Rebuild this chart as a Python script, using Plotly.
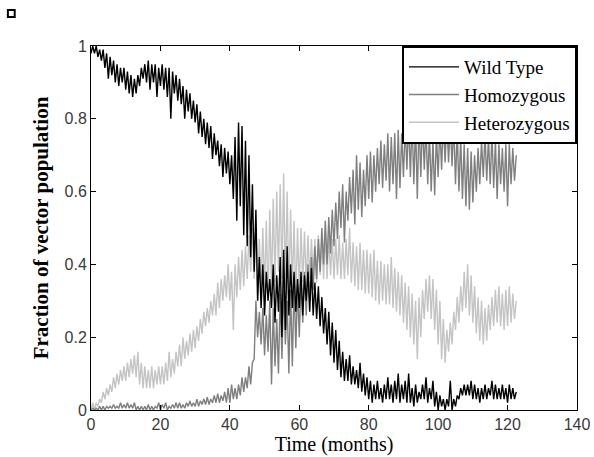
import plotly.graph_objects as go

# Time axis: one sample per month, 0..122
months = list(range(0, 123))

# Wild Type: lower / upper envelope of the fluctuating trace (read per month)
wt_lo = [0.98, 0.98, 0.97, 0.96, 0.94, 0.91, 0.92, 0.90, 0.89, 0.90,
         0.88, 0.87, 0.86, 0.87, 0.89, 0.91, 0.90, 0.88, 0.90, 0.86,
         0.89, 0.88, 0.86, 0.80, 0.87, 0.85, 0.84, 0.80, 0.82, 0.80,
         0.79, 0.76, 0.75, 0.73, 0.72, 0.69, 0.70, 0.67, 0.64, 0.65,
         0.62, 0.58, 0.52, 0.56, 0.48, 0.45, 0.42, 0.38, 0.30, 0.28,
         0.26, 0.30, 0.28, 0.24, 0.27, 0.20, 0.22, 0.26, 0.28, 0.27,
         0.28, 0.26, 0.30, 0.27, 0.26, 0.25, 0.23, 0.21, 0.18, 0.15,
         0.13, 0.11, 0.09, 0.08, 0.08, 0.07, 0.07, 0.06, 0.05, 0.04,
         0.03, 0.02, 0.03, 0.03, 0.02, 0.03, 0.03, 0.02, 0.03, 0.02,
         0.03, 0.02, 0.02, 0.01, 0.02, 0.03, 0.03, 0.02, 0.03, 0.01,
         0.00, 0.01, 0.00, 0.01, 0.00, 0.01, 0.03, 0.04, 0.04, 0.04,
         0.03, 0.03, 0.02, 0.03, 0.03, 0.04, 0.03, 0.03, 0.03, 0.03,
         0.02, 0.03, 0.03]
wt_hi = [1.00, 1.00, 0.99, 0.99, 0.98, 0.97, 0.96, 0.95, 0.94, 0.94,
         0.93, 0.92, 0.91, 0.92, 0.94, 0.95, 0.96, 0.95, 0.95, 0.94,
         0.95, 0.94, 0.94, 0.93, 0.92, 0.91, 0.89, 0.88, 0.87, 0.85,
         0.84, 0.82, 0.80, 0.79, 0.78, 0.76, 0.74, 0.73, 0.72, 0.71,
         0.70, 0.75, 0.79, 0.78, 0.74, 0.70, 0.62, 0.55, 0.42, 0.40,
         0.38, 0.36, 0.40, 0.37, 0.42, 0.44, 0.45, 0.40, 0.38, 0.36,
         0.38, 0.37, 0.38, 0.39, 0.35, 0.34, 0.31, 0.28, 0.27, 0.24,
         0.22, 0.19, 0.16, 0.14, 0.15, 0.12, 0.11, 0.13, 0.10, 0.09,
         0.08, 0.07, 0.08, 0.06, 0.07, 0.09, 0.07, 0.08, 0.10, 0.07,
         0.08, 0.10, 0.06, 0.07, 0.05, 0.07, 0.09, 0.06, 0.08, 0.05,
         0.04, 0.03, 0.03, 0.08, 0.03, 0.04, 0.06, 0.07, 0.07, 0.08,
         0.07, 0.06, 0.06, 0.07, 0.06, 0.08, 0.07, 0.06, 0.07, 0.06,
         0.07, 0.06, 0.05]

# Homozygous
ho_lo = [0.000, 0.000, 0.000, 0.000, 0.000, 0.005, 0.005, 0.005, 0.005, 0.005,
         0.005, 0.005, 0.005, 0.000, 0.000, 0.000, 0.000, 0.000, 0.000, 0.005,
         0.000, 0.005, 0.000, 0.005, 0.005, 0.005, 0.005, 0.005, 0.010, 0.010,
         0.010, 0.010, 0.015, 0.015, 0.015, 0.020, 0.020, 0.020, 0.025, 0.020,
         0.02, 0.03, 0.03, 0.04, 0.05, 0.06, 0.07, 0.14, 0.20, 0.18,
         0.15, 0.16, 0.07, 0.12, 0.10, 0.14, 0.18, 0.10, 0.12, 0.17,
         0.20, 0.24, 0.26, 0.30, 0.33, 0.36, 0.38, 0.40, 0.40, 0.43,
         0.45, 0.47, 0.50, 0.46, 0.52, 0.54, 0.51, 0.55, 0.53, 0.56,
         0.58, 0.57, 0.60, 0.62, 0.61, 0.63, 0.60, 0.62, 0.58, 0.61,
         0.64, 0.66, 0.64, 0.62, 0.58, 0.64, 0.66, 0.62, 0.60, 0.59,
         0.64, 0.66, 0.68, 0.68, 0.67, 0.62, 0.60, 0.58, 0.56, 0.55,
         0.57, 0.60, 0.62, 0.64, 0.63, 0.62, 0.61, 0.58, 0.62, 0.60,
         0.56, 0.62, 0.63]
ho_hi = [0.005, 0.005, 0.010, 0.010, 0.010, 0.010, 0.015, 0.010, 0.020, 0.015,
         0.020, 0.015, 0.020, 0.010, 0.010, 0.010, 0.015, 0.010, 0.010, 0.020,
         0.015, 0.020, 0.010, 0.015, 0.020, 0.020, 0.015, 0.020, 0.025, 0.020,
         0.030, 0.025, 0.030, 0.035, 0.030, 0.040, 0.045, 0.040, 0.050, 0.060,
         0.07, 0.06, 0.07, 0.09, 0.09, 0.12, 0.13, 0.30, 0.27, 0.28,
         0.26, 0.30, 0.28, 0.25, 0.32, 0.34, 0.30, 0.33, 0.35, 0.34,
         0.36, 0.38, 0.40, 0.42, 0.45, 0.47, 0.50, 0.52, 0.53, 0.55,
         0.57, 0.60, 0.62, 0.60, 0.64, 0.66, 0.70, 0.68, 0.66, 0.70,
         0.71, 0.70, 0.72, 0.74, 0.73, 0.76, 0.75, 0.76, 0.77, 0.76,
         0.78, 0.80, 0.80, 0.79, 0.80, 0.80, 0.78, 0.76, 0.74, 0.76,
         0.78, 0.80, 0.80, 0.80, 0.79, 0.77, 0.75, 0.73, 0.72, 0.71,
         0.70, 0.72, 0.74, 0.76, 0.75, 0.76, 0.74, 0.73, 0.72, 0.73,
         0.73, 0.72, 0.70]

# Heterozygous
he_lo = [0.00, 0.00, 0.01, 0.02, 0.03, 0.04, 0.05, 0.06, 0.07, 0.08,
         0.08, 0.09, 0.10, 0.09, 0.07, 0.06, 0.06, 0.06, 0.06, 0.07,
         0.07, 0.07, 0.08, 0.09, 0.10, 0.12, 0.12, 0.14, 0.15, 0.16,
         0.17, 0.19, 0.21, 0.23, 0.24, 0.26, 0.26, 0.28, 0.30, 0.31,
         0.30, 0.22, 0.31, 0.33, 0.34, 0.36, 0.38, 0.36, 0.30, 0.33,
         0.32, 0.30, 0.33, 0.35, 0.38, 0.36, 0.34, 0.32, 0.33, 0.30,
         0.33, 0.35, 0.34, 0.36, 0.36, 0.35, 0.37, 0.36, 0.36, 0.37,
         0.36, 0.37, 0.36, 0.36, 0.37, 0.35, 0.34, 0.33, 0.33, 0.32,
         0.32, 0.31, 0.30, 0.29, 0.30, 0.29, 0.29, 0.28, 0.27, 0.26,
         0.24, 0.22, 0.20, 0.18, 0.14, 0.20, 0.25, 0.27, 0.25, 0.22,
         0.18, 0.14, 0.13, 0.16, 0.18, 0.22, 0.24, 0.27, 0.28, 0.26,
         0.24, 0.21, 0.19, 0.18, 0.19, 0.22, 0.23, 0.24, 0.23, 0.22,
         0.23, 0.24, 0.25]
he_hi = [0.02, 0.02, 0.03, 0.05, 0.06, 0.07, 0.09, 0.10, 0.11, 0.12,
         0.13, 0.14, 0.15, 0.16, 0.13, 0.12, 0.11, 0.12, 0.11, 0.12,
         0.12, 0.13, 0.16, 0.14, 0.16, 0.18, 0.20, 0.19, 0.21, 0.22,
         0.23, 0.25, 0.27, 0.28, 0.30, 0.32, 0.35, 0.36, 0.37, 0.40,
         0.38, 0.40, 0.42, 0.44, 0.45, 0.48, 0.50, 0.52, 0.47, 0.50,
         0.52, 0.55, 0.58, 0.60, 0.62, 0.65, 0.60, 0.55, 0.52, 0.50,
         0.50, 0.49, 0.48, 0.47, 0.47, 0.48, 0.47, 0.49, 0.48, 0.47,
         0.47, 0.48, 0.46, 0.47, 0.50, 0.46, 0.45, 0.46, 0.44, 0.44,
         0.43, 0.44, 0.41, 0.41, 0.40, 0.40, 0.42, 0.39, 0.38, 0.37,
         0.35, 0.34, 0.32, 0.30, 0.31, 0.33, 0.36, 0.37, 0.36, 0.33,
         0.30, 0.25, 0.22, 0.24, 0.27, 0.31, 0.34, 0.38, 0.40, 0.37,
         0.34, 0.31, 0.30, 0.28, 0.29, 0.31, 0.33, 0.34, 0.32, 0.33,
         0.34, 0.32, 0.30]

series_names = ["Wild Type", "Homozygous", "Heterozygous"]
series_colors = ["#000000", "#7f7f7f", "#c4c4c4"]
x_ticks = [0, 20, 40, 60, 80, 100, 120, 140]
y_ticks = [0, 0.2, 0.4, 0.6, 0.8, 1]
y_tick_text = ["0", "0.2", "0.4", "0.6", "0.8", "1"]


def zigzag(t, lo, hi):
    xs, ys = [], []
    for ti, a, b in zip(t, lo, hi):
        xs += [ti, ti + 0.5]
        ys += [a, b]
    return xs, ys


data = {
    "Wild Type": (wt_lo, wt_hi),
    "Homozygous": (ho_lo, ho_hi),
    "Heterozygous": (he_lo, he_hi),
}

fig = go.Figure()
# draw heterozygous first, wild type on top; legend order via legendrank
for rank, name in reversed(list(enumerate(series_names))):
    lo, hi = data[name]
    xs, ys = zigzag(months, lo, hi)
    fig.add_trace(go.Scatter(
        x=xs, y=ys, mode="lines", name=name,
        line=dict(color=series_colors[rank], width=1.4),
        legendrank=rank + 1, legendgroup=name,
    ))

serif = "Liberation Serif, Times New Roman, serif"
axis_common = dict(
    showline=True, linecolor="#000000", linewidth=1, mirror="allticks",
    ticks="inside", ticklen=5, tickcolor="#000000", showgrid=False,
    zeroline=False, automargin=False,
    tickfont=dict(family="Liberation Sans, Arial, sans-serif", size=16, color="#3a3a3a"),
)

fig.update_layout(
    width=594, height=457,
    margin=dict(l=91, r=17, t=46, b=47),
    paper_bgcolor="white", plot_bgcolor="white",
    showlegend=True,
    legend=dict(
        x=1, y=1, xanchor="right", yanchor="top",
        bgcolor="white", bordercolor="#000000", borderwidth=2,
        font=dict(family=serif, size=19, color="#000000"),
        traceorder="grouped", tracegroupgap=0, itemwidth=50,
    ),
    xaxis=dict(range=[0, 140], tickvals=x_ticks, **axis_common,
               title=dict(text="Time (months)", standoff=4,
                          font=dict(family=serif, size=20, color="#000000"))),
    yaxis=dict(range=[0, 1], tickvals=y_ticks, ticktext=y_tick_text, **axis_common,
               title=dict(text="<b>Fraction of vector population</b>", standoff=10,
                          font=dict(family=serif, size=21, color="#000000"))),
    shapes=[dict(type="rect", xref="paper", yref="paper",
                 x0=-0.171, x1=-0.157, y0=1.080, y1=1.099,
                 line=dict(color="#000000", width=2), fillcolor="white")],
)

fig.write_html("out.html")
